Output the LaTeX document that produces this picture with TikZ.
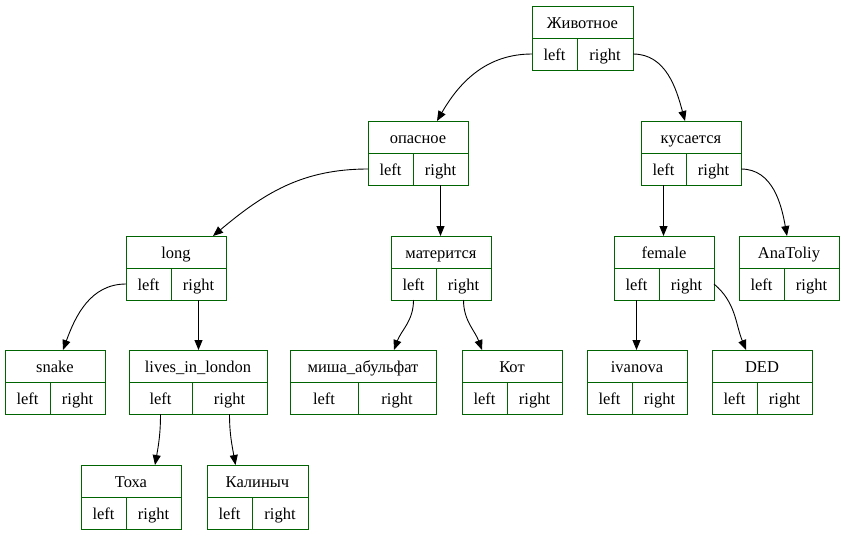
\documentclass[tikz,border=0pt]{standalone}
\usepackage{fontspec}
\setmainfont{Liberation Serif}
\usepackage{xcolor}
\usepackage{tikz}
\usetikzlibrary{arrows.meta, positioning}
\definecolor{recgreen}{RGB}{0,100,0}

\begin{document}
\begin{tikzpicture}[
    x=1pt, y=-1pt,
    >={Triangle[length=10pt, width=8pt]},
    font=\fontsize{16.5}{19}\selectfont,
    head/.style={draw=recgreen, line width=1pt, minimum height=32pt, minimum width=#1, inner sep=0pt, outer sep=0pt, anchor=north west, text height=14pt, text depth=2pt},
    head/.default=100pt,
    cell/.style={draw=recgreen, line width=1pt, minimum height=32pt, minimum width=#1, inner sep=0pt, outer sep=0pt, text height=14pt, text depth=2pt},
    cell/.default=45pt,
    arr/.style={->, line width=0.9pt},
]
\useasboundingbox (0,0) rectangle (845,536);

% Row 1: root
\node[head=101pt] (zhiv) at (532,6) {Животное};
\node[cell, anchor=north west] (zhivL) at (zhiv.south west) {left};
\node[cell=56pt, anchor=north east] (zhivR) at (zhiv.south east) {right};

% Row 2
\node[head] (opas) at (368,121) {опасное};
\node[cell, anchor=north west] (opasL) at (opas.south west) {left};
\node[cell=55pt, anchor=north east] (opasR) at (opas.south east) {right};

\node[head] (kus) at (641,121) {кусается};
\node[cell, anchor=north west] (kusL) at (kus.south west) {left};
\node[cell=55pt, anchor=north east] (kusR) at (kus.south east) {right};

% Row 3
\node[head] (long) at (126,236) {long};
\node[cell, anchor=north west] (longL) at (long.south west) {left};
\node[cell=55pt, anchor=north east] (longR) at (long.south east) {right};

\node[head] (mat) at (391,236) {матерится};
\node[cell, anchor=north west] (matL) at (mat.south west) {left};
\node[cell=55pt, anchor=north east] (matR) at (mat.south east) {right};

\node[head] (fem) at (614,236) {female};
\node[cell, anchor=north west] (femL) at (fem.south west) {left};
\node[cell=55pt, anchor=north east] (femR) at (fem.south east) {right};

\node[head] (ana) at (739,236) {AnaToliy};
\node[cell, anchor=north west] (anaL) at (ana.south west) {left};
\node[cell=55pt, anchor=north east] (anaR) at (ana.south east) {right};

% Row 4
\node[head] (snake) at (5,350) {snake};
\node[cell, anchor=north west] (snakeL) at (snake.south west) {left};
\node[cell=55pt, anchor=north east] (snakeR) at (snake.south east) {right};

\node[head=138pt] (lives) at (129,350) {lives\_in\_london};
\node[cell=63pt, anchor=north west] (livesL) at (lives.south west) {left};
\node[cell=75pt, anchor=north east] (livesR) at (lives.south east) {right};

\node[head=146pt] (misha) at (290,350) {миша\_абульфат};
\node[cell=68pt, anchor=north west] (mishaL) at (misha.south west) {left};
\node[cell=78pt, anchor=north east] (mishaR) at (misha.south east) {right};

\node[head] (kot) at (462,350) {Кот};
\node[cell, anchor=north west] (kotL) at (kot.south west) {left};
\node[cell=55pt, anchor=north east] (kotR) at (kot.south east) {right};

\node[head] (ivan) at (587,350) {ivanova};
\node[cell, anchor=north west] (ivanL) at (ivan.south west) {left};
\node[cell=55pt, anchor=north east] (ivanR) at (ivan.south east) {right};

\node[head] (ded) at (712,350) {DED};
\node[cell, anchor=north west] (dedL) at (ded.south west) {left};
\node[cell=55pt, anchor=north east] (dedR) at (ded.south east) {right};

% Row 5
\node[head] (toha) at (81,465) {Тоха};
\node[cell, anchor=north west] (tohaL) at (toha.south west) {left};
\node[cell=55pt, anchor=north east] (tohaR) at (toha.south east) {right};

\node[head=101pt] (kalin) at (207,465) {Калиныч};
\node[cell, anchor=north west] (kalinL) at (kalin.south west) {left};
\node[cell=56pt, anchor=north east] (kalinR) at (kalin.south east) {right};

% Edges
\draw[arr] (zhivL.west) to[out=180, in=60] ([xshift=19pt]opas.north);
\draw[arr] (zhivR.east) to[out=0, in=105] ([xshift=-6pt]kus.north);

\draw[arr] (opasL.west) to[out=180, in=40] ([xshift=37pt]long.north);
\draw[arr] (opasR.south) -- (opasR.south |- mat.north);
\draw[arr] (kusL.south) -- (kusL.south |- fem.north);
\draw[arr] (kusR.east) to[out=0, in=100] ([xshift=-2pt]ana.north);

\draw[arr] (longL.west) to[out=180, in=70] ([xshift=8pt]snake.north);
\draw[arr] (longR.south) -- (longR.south |- lives.north);
\draw[arr] (matL.south) to[out=-90, in=70] ([xshift=31pt]misha.north);
\draw[arr] (matR.south) to[out=-90, in=110] ([xshift=-30pt]kot.north);
\draw[arr] (femL.south) -- (femL.south |- ivan.north);
\draw[arr] (femR.east) to[out=-40, in=112] ([xshift=-16pt]ded.north);

\draw[arr] (livesL.south) to[out=-90, in=80] ([xshift=24pt]toha.north);
\draw[arr] (livesR.south) to[out=-90, in=100] ([xshift=-22pt]kalin.north);

\end{tikzpicture}
\end{document}
